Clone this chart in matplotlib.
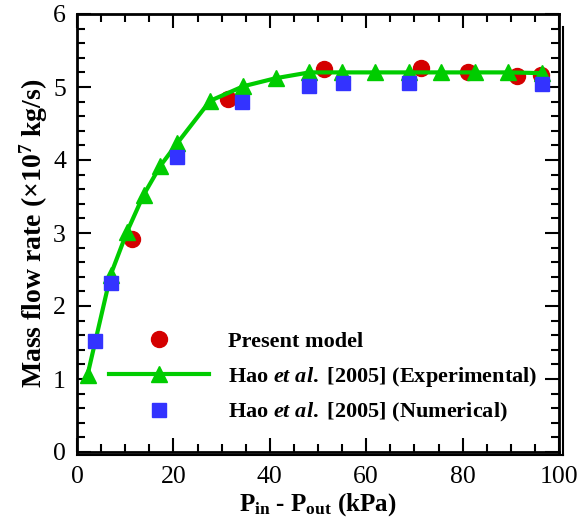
import matplotlib
matplotlib.use("Agg")
import matplotlib.pyplot as plt
from matplotlib.ticker import MultipleLocator

plt.rcParams['font.family'] = ['Liberation Serif', 'DejaVu Serif']
plt.rcParams['mathtext.fontset'] = 'custom'
plt.rcParams['mathtext.rm'] = 'Liberation Serif:bold'
plt.rcParams['mathtext.bf'] = 'Liberation Serif:bold'
plt.rcParams['mathtext.it'] = 'Liberation Serif:italic:bold'

# Present model
model_dp = [11.5, 31.4, 51.3, 71.3, 81.2, 91.2, 96.2]
model_flow = [2.92, 4.84, 5.25, 5.26, 5.21, 5.15, 5.16]

# Hao et al. 2005, experimental
exp_dp = [2.2, 7.0, 10.4, 13.8, 17.3, 20.8, 27.6, 34.5, 41.2, 48.2, 55.0,
          61.9, 68.9, 75.6, 82.5, 89.5, 96.4]
exp_flow = [1.06, 2.43, 3.02, 3.52, 3.92, 4.23, 4.81, 5.01, 5.12, 5.20, 5.20,
            5.20, 5.20, 5.20, 5.20, 5.20, 5.19]

# Hao et al. 2005, numerical
num_dp = [3.7, 7.0, 20.8, 34.3, 48.2, 55.1, 68.9, 96.4]
num_flow = [1.52, 2.32, 4.04, 4.80, 5.02, 5.05, 5.05, 5.04]

labels = ["Present model",
          r"Hao $\mathit{et\ al.}$ [2005] (Experimental)",
          r"Hao $\mathit{et\ al.}$ [2005] (Numerical)"]

fig = plt.figure(figsize=(5.82, 5.27), dpi=100)
ax = fig.add_axes([77 / 582, 75 / 527, 482 / 582, 438 / 527])

ax.plot(model_dp, model_flow, 'o', color='#d40000', ms=11.5, ls='none',
        label=labels[0], zorder=3)
ax.plot(exp_dp, exp_flow, '-^', color='#00cc00', ms=11, lw=3,
        label=labels[1], zorder=4)
ax.plot(num_dp, num_flow, 's', color='#3333ff', ms=10.5, ls='none',
        label=labels[2], zorder=5)

ax.set_xlim(0, 100)
ax.set_ylim(0, 6)
ax.xaxis.set_major_locator(MultipleLocator(20))
ax.xaxis.set_minor_locator(MultipleLocator(5))
ax.yaxis.set_major_locator(MultipleLocator(1))
ax.yaxis.set_minor_locator(MultipleLocator(0.2))
ax.tick_params(which='both', direction='in', top=True, right=True,
               labelsize=18.5, width=1.5)
ax.tick_params(which='major', length=10, pad=8)
ax.tick_params(axis='x', which='major', pad=10)
ax.tick_params(which='minor', length=6)
for s in ax.spines.values():
    s.set_linewidth(2)

# double line (shadow) on bottom and right edges
ax.plot([0, 1.009], [-0.007, -0.007], transform=ax.transAxes, color='k',
        lw=1.5, clip_on=False)
ax.plot([1.009, 1.009], [0.97, -0.007], transform=ax.transAxes, color='k',
        lw=1.5, clip_on=False)

ax.set_xlabel(r"P$_{\mathbf{in}}$ - P$_{\mathbf{out}}$ (kPa)",
              fontsize=18, fontweight='bold', labelpad=2)
ax.set_ylabel(r"Mass flow rate (×10$^{\mathbf{7}}$ kg/s)",
              fontsize=20, fontweight='bold', labelpad=2)

ax.legend(loc='upper left', bbox_to_anchor=(0.043, 0.30), frameon=False,
          borderpad=0, handlelength=4.5, handletextpad=0.85,
          labelspacing=0.56, prop={'family': 'Liberation Serif',
                                   'weight': 'bold', 'size': 16})

fig.savefig("out.png", dpi=100)
